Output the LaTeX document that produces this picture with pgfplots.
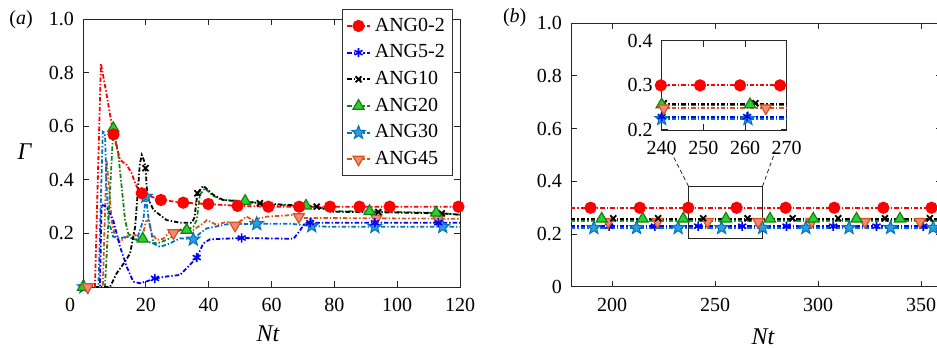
\documentclass[border=0pt]{standalone}
\usepackage{fontspec}
\setmainfont{Liberation Serif}
\usepackage{pgfplots}
\usepackage{pgfplotstable}
\pgfplotsset{compat=1.18}
\usetikzlibrary{plotmarks}

\pgfdeclareplotmark{fstar}{%
  \pgfpathmoveto{\pgfpointpolar{90}{\pgfplotmarksize}}%
  \pgfpathlineto{\pgfpointpolar{126}{0.42\pgfplotmarksize}}%
  \pgfpathlineto{\pgfpointpolar{162}{\pgfplotmarksize}}%
  \pgfpathlineto{\pgfpointpolar{198}{0.42\pgfplotmarksize}}%
  \pgfpathlineto{\pgfpointpolar{234}{\pgfplotmarksize}}%
  \pgfpathlineto{\pgfpointpolar{270}{0.42\pgfplotmarksize}}%
  \pgfpathlineto{\pgfpointpolar{306}{\pgfplotmarksize}}%
  \pgfpathlineto{\pgfpointpolar{342}{0.42\pgfplotmarksize}}%
  \pgfpathlineto{\pgfpointpolar{18}{\pgfplotmarksize}}%
  \pgfpathlineto{\pgfpointpolar{54}{0.42\pgfplotmarksize}}%
  \pgfpathclose
  \pgfusepathqfillstroke
}

\definecolor{cR}{rgb}{1,0,0}
\definecolor{cB}{rgb}{0,0,1}
\definecolor{cG}{HTML}{1A7F1A}
\definecolor{cGf}{HTML}{2BD12B}
\definecolor{cS}{HTML}{0072BD}
\definecolor{cSf}{HTML}{2E9BE0}
\definecolor{cO}{HTML}{D95319}
\definecolor{cOf}{HTML}{F08A7A}

\pgfplotsset{
  dp/.style={dash pattern=on 2.2pt off 1pt on 0.7pt off 1pt},
  sR/.style={cR, line width=0.9pt, dp, mark=*, mark size=2.6pt, mark options={solid, fill=cR, draw=cR}},
  sB/.style={cB, line width=0.9pt, dp, mark=asterisk, mark size=2.3pt, mark options={solid, line width=0.8pt}},
  sK/.style={black, line width=0.9pt, dp, mark=x, mark size=2.1pt, mark options={solid, line width=0.9pt}},
  sG/.style={cG, line width=0.9pt, dp, mark=triangle*, mark size=3.2pt, mark options={solid, fill=cGf, draw=cG, line width=0.6pt}},
  sS/.style={cS, line width=0.9pt, dp, mark=fstar, mark size=3.5pt, mark options={solid, fill=cSf, draw=cS, line width=0.5pt}},
  sO/.style={cO, line width=0.9pt, dp, mark=triangle*, mark size=3.2pt, mark options={solid, fill=cOf, draw=cO, rotate=180, line width=0.6pt}},
  base/.style={scale only axis, axis line style={black!85}, tick style={black!85, line width=0.5pt},
    major tick length=3pt, tick align=inside,
    /pgf/number format/assume math mode=true,
    tick label style={font=\rmfamily\fontsize{10}{12}\selectfont},
    xticklabel style={yshift=-2pt}, yticklabel style={xshift=-1pt},
    label style={font=\rmfamily\fontsize{12}{14}\selectfont}},
}

% ---------- left panel data ----------
\pgfplotstableread{
x y
0.5 0
3.8 0
5.7 0.835
7.5 0.72
9.7 0.57
11.8 0.475
13.9 0.456
15.5 0.425
16.6 0.388
17.9 0.356
18.7 0.35
24.8 0.325
31.9 0.315
39.9 0.31
49.2 0.303
59 0.30
120 0.30
}\Rline
\pgfplotstableread{
x y
9.7 0.57
18.7 0.35
24.8 0.325
31.9 0.315
39.9 0.31
49.2 0.303
59 0.30
68.8 0.30
78.6 0.30
88 0.30
97.6 0.30
119.5 0.30
}\Rmark
\pgfplotstableread{
x y
0.5 0
5.4 0
5.9 0.307
7.5 0.30
9.6 0.25
11.8 0.15
13.9 0.076
16 0.02
18.1 0.014
20.5 0.022
22.9 0.032
27 0.04
30.9 0.045
33 0.07
36.2 0.11
38.3 0.163
40.4 0.178
50.5 0.183
67 0.18
69 0.21
70.7 0.24
72.3 0.24
120 0.24
}\Bline
\pgfplotstableread{
x y
22.9 0.032
36.2 0.11
50.5 0.183
72.3 0.24
92.9 0.24
113.1 0.24
}\Bmark
\pgfplotstableread{
x y
0.5 0
8.6 0
10.7 0.051
13.4 0.095
15 0.126
16.6 0.225
18.1 0.46
18.7 0.493
19.5 0.47
19.9 0.444
20.5 0.338
22.4 0.288
26.6 0.25
30.9 0.24
34.6 0.24
35.5 0.26
36.4 0.35
38.3 0.378
41.5 0.344
44.7 0.325
56.3 0.313
74.4 0.30
79.7 0.281
90.3 0.28
114.2 0.275
120 0.27
}\Kline
\pgfplotstableread{
x y
19.9 0.444
36.4 0.35
56.3 0.313
74.4 0.30
94 0.28
114.2 0.275
}\Kmark
\pgfplotstableread{
x y
0.5 0
7.0 0
9.65 0.593
11.2 0.5
12.3 0.375
13.4 0.25
14.4 0.2
15.5 0.182
17.1 0.176
19 0.18
21.9 0.163
24.5 0.166
27.7 0.182
30.9 0.213
33 0.213
35.1 0.225
36.2 0.25
37.2 0.344
38.8 0.369
41 0.344
44.1 0.325
51.6 0.321
60 0.306
71 0.303
76 0.295
79.7 0.283
91.2 0.283
112.4 0.277
120 0.27
}\Gline
\pgfplotstableread{
x y
0 0
9.65 0.593
19 0.18
33 0.213
51.6 0.321
71 0.303
91.2 0.283
112.4 0.277
}\Gmark
\pgfplotstableread{
x y
0.5 0
4.9 0
6.3 0.58
7.0 0.575
7.5 0.375
8.1 0.25
9.6 0.188
11.8 0.182
13.9 0.188
17.1 0.176
19.2 0.25
20 0.338
20.8 0.263
22.4 0.163
24.5 0.15
27.7 0.163
30.9 0.182
35.1 0.178
37.2 0.2
39.4 0.219
45.7 0.234
55.3 0.236
66.4 0.236
72.8 0.228
78 0.225
120 0.225
}\Sline
\pgfplotstableread{
x y
0.3 0
20 0.338
35.1 0.178
55.3 0.236
72.8 0.228
92.9 0.225
114.5 0.225
}\Smark
\pgfplotstableread{
x y
0.5 0
6.3 0
7.5 0.475
8.1 0.4
9.1 0.25
10.2 0.188
11.8 0.17
13.9 0.188
16 0.2
18.7 0.176
20 0.244
20.8 0.25
21.9 0.2
23.5 0.176
25.5 0.18
27.7 0.207
28.8 0.205
31.9 0.219
35.1 0.213
38.3 0.238
39.4 0.25
42.6 0.232
45.7 0.244
48.4 0.232
52.1 0.263
53.9 0.25
58.5 0.263
67 0.269
70 0.258
120 0.255
}\Oline
\pgfplotstableread{
x y
28.8 0.202
48.4 0.23
68.7 0.262
93.4 0.257
113 0.256
}\Omark
\pgfplotstableread{
x y
1.5 0
}\Oorigin

% ---------- right panel data ----------
\pgfplotstableread{
x y
180 0.30
360 0.30
}\RRline
\pgfplotstableread{
x y
189.5 0.30
213.4 0.30
236.9 0.30
260.4 0.30
284.2 0.30
307.8 0.30
331.6 0.30
355 0.30
}\RRmark
\pgfplotstableread{
x y
180 0.258
360 0.258
}\RKline
\pgfplotstableread{
x y
200.5 0.26
222.3 0.26
244.2 0.26
265.7 0.26
287.6 0.26
309.7 0.26
332.4 0.26
354.2 0.26
}\RKmark
\pgfplotstableread{
x y
180 0.255
360 0.255
}\RGline
\pgfplotstableread{
x y
194.9 0.258
214.8 0.258
234.5 0.258
255.2 0.258
276.6 0.258
297.6 0.258
318.6 0.258
339.7 0.258
}\RGmark
\pgfplotstableread{
x y
180 0.249
360 0.249
}\ROline
\pgfplotstableread{
x y
198.1 0.247
222 0.247
246.3 0.247
270.9 0.247
296.8 0.247
322.7 0.247
349.4 0.247
}\ROmark
\pgfplotstableread{
x y
180 0.23
360 0.23
}\RBline
\pgfplotstableread{
x y
198.5 0.23
220.7 0.23
241.7 0.23
263.1 0.23
284.6 0.23
307.3 0.23
328.3 0.23
351 0.23
}\RBmark
\pgfplotstableread{
x y
180 0.224
360 0.224
}\RSline
\pgfplotstableread{
x y
191.1 0.224
211.8 0.224
232 0.224
253.1 0.224
273 0.224
294 0.224
315 0.224
335.1 0.224
355.8 0.224
}\RSmark

% ---------- inset data ----------
\pgfplotstableread{
x y
240 0.30
270 0.30
}\IRline
\pgfplotstableread{
x y
239.8 0.30
249.2 0.30
258.8 0.30
268.4 0.30
}\IRmark
\pgfplotstableread{
x y
240 0.258
270 0.258
}\IKline
\pgfplotstableread{
x y
240.5 0.26
262.5 0.26
}\IKmark
\pgfplotstableread{
x y
240 0.255
270 0.255
}\IGline
\pgfplotstableread{
x y
240 0.257
261.2 0.257
}\IGmark
\pgfplotstableread{
x y
240 0.249
270 0.249
}\IOline
\pgfplotstableread{
x y
240.5 0.249
265 0.249
}\IOmark
\pgfplotstableread{
x y
240 0.23
270 0.23
}\IBline
\pgfplotstableread{
x y
240 0.23
260.5 0.23
}\IBmark
\pgfplotstableread{
x y
240 0.225
270 0.225
}\ISline
\pgfplotstableread{
x y
240 0.225
260.7 0.225
}\ISmark

\begin{document}
\begin{tikzpicture}
\path[use as bounding box] (0,0) rectangle (468.5pt,174pt);

% ===== left panel =====
\begin{axis}[base, at={(41.5pt,30.5pt)}, anchor=south west,
  width=188.5pt, height=133.85pt,
  xmin=0, xmax=120, ymin=0, ymax=1,
  xtick={0,20,40,60,80,100,120},
  xticklabels={\makebox[0pt]{\hspace*{-13pt}0},20,40,60,80,100,120},
  ytick={0.2,0.4,0.6,0.8,1.0}, yticklabels={0.2,0.4,0.6,0.8,1.0},
  clip=false,
  xlabel={\textit{Nt}},
  xlabel style={at={(rel axis cs:0.491,-0.176)}, anchor=center},
  ylabel={\textit{Γ}},
  ylabel style={at={(rel axis cs:-0.154,0.504)}, rotate=-90, anchor=center},
  legend style={at={(rel axis cs:0.982,1.037)}, anchor=north east,
    draw=black!80, fill=white, font=\rmfamily\fontsize{10}{12}\selectfont,
    row sep=1.2pt, inner ysep=2pt, inner xsep=2pt},
  legend cell align=left,
  legend image code/.code={\draw[mark repeat=2,mark phase=2,#1] plot coordinates {(0cm,0cm) (0.2cm,0cm) (0.4cm,0cm)};},
]
\addlegendimage{sR}\addlegendentry{ANG0-2}
\addlegendimage{sB}\addlegendentry{ANG5-2}
\addlegendimage{sK}\addlegendentry{ANG10}
\addlegendimage{sG}\addlegendentry{ANG20}
\addlegendimage{sS}\addlegendentry{ANG30}
\addlegendimage{sO}\addlegendentry{ANG45}

\addplot[sO, mark=none, forget plot] table {\Oline};
\addplot[sS, mark=none, forget plot] table {\Sline};
\addplot[sB, mark=none, forget plot] table {\Bline};
\addplot[sG, mark=none, forget plot] table {\Gline};
\addplot[sK, mark=none, forget plot] table {\Kline};
\addplot[sR, mark=none, forget plot] table {\Rline};

\addplot[sO, only marks, forget plot] table {\Omark};
\addplot[sS, only marks, forget plot] table {\Smark};
\addplot[sB, only marks, forget plot] table {\Bmark};
\addplot[sK, only marks, forget plot] table {\Kmark};
\addplot[sG, only marks, forget plot] table {\Gmark};
\addplot[sR, only marks, forget plot] table {\Rmark};
\addplot[sO, only marks, forget plot] table {\Oorigin};
\end{axis}

% ===== right panel =====
\begin{axis}[base, at={(285.5pt,30.6pt)}, anchor=south west,
  width=185.4pt, height=131.75pt,
  xmin=180, xmax=360, ymin=0, ymax=1,
  xtick={200,250,300,350},
  ytick={0,0.2,0.4,0.6,0.8,1.0}, yticklabels={0,0.2,0.4,0.6,0.8,1.0},
  xlabel={\textit{Nt}},
  xlabel style={at={(rel axis cs:0.518,-0.19)}, anchor=center},
]
\addplot[sO, mark=none] table {\ROline};
\addplot[sS, mark=none] table {\RSline};
\addplot[sB, mark=none] table {\RBline};
\addplot[sG, mark=none] table {\RGline};
\addplot[sK, mark=none] table {\RKline};
\addplot[sR, mark=none] table {\RRline};
\addplot[sS, only marks] table {\RSmark};
\addplot[sB, only marks] table {\RBmark};
\addplot[sO, only marks] table {\ROmark};
\addplot[sK, only marks] table {\RKmark};
\addplot[sG, only marks] table {\RGmark};
\addplot[sR, only marks] table {\RRmark};
\draw[black!85, line width=0.5pt] (axis cs:237,0.184) rectangle (axis cs:273,0.382);
\draw[black!85, line width=0.4pt, dash pattern=on 2pt off 1.5pt] (axis cs:237,0.382) -- (axis cs:228.8,0.508);
\draw[black!85, line width=0.4pt, dash pattern=on 2pt off 1.5pt] (axis cs:273,0.382) -- (axis cs:279,0.512);
\end{axis}

% ===== inset =====
\begin{axis}[base, at={(330.85pt,109pt)}, anchor=south west,
  width=62.5pt, height=44.65pt,
  xmin=240, xmax=270, ymin=0.2, ymax=0.4,
  xtick={240,250,260,270},
  ytick={0.2,0.3,0.4}, yticklabels={0.2,0.3,0.4},
  axis background/.style={fill=white},
  clip=false,
]
\addplot[sO, mark=none] table {\IOline};
\addplot[sS, mark=none] table {\ISline};
\addplot[sB, mark=none] table {\IBline};
\addplot[sG, mark=none] table {\IGline};
\addplot[sK, mark=none] table {\IKline};
\addplot[sR, mark=none] table {\IRline};
\addplot[sS, only marks] table {\ISmark};
\addplot[sB, only marks] table {\IBmark};
\addplot[sK, only marks] table {\IKmark};
\addplot[sG, only marks] table {\IGmark};
\addplot[sO, only marks] table {\IOmark};
\addplot[sR, only marks] table {\IRmark};
\end{axis}

\node[font=\rmfamily\fontsize{10}{12}\selectfont] at (10.5pt,164pt) {(\textit{a})};
\node[font=\rmfamily\fontsize{10}{12}\selectfont] at (257.35pt,165.25pt) {(\textit{b})};
\end{tikzpicture}
\end{document}
